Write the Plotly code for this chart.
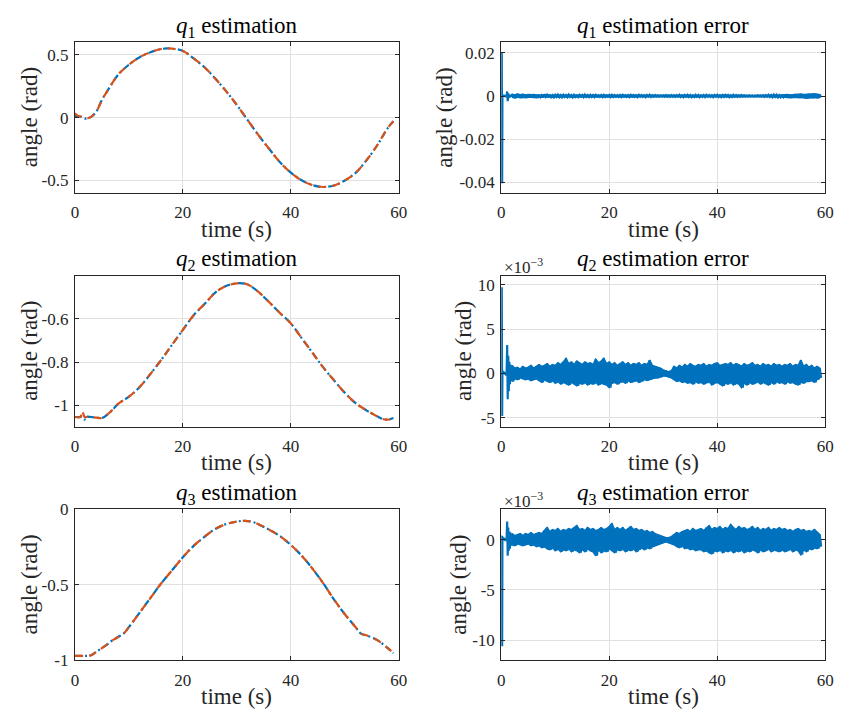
import numpy as np
import plotly.graph_objects as go

# ---------------- data ----------------
# estimation curves (time s, angle rad)
t_q1 = [0, 0.5, 1, 2, 3, 4, 5, 6, 8, 10, 12, 14, 16, 17, 18, 20, 22, 24, 26, 28, 30,
        32, 34, 36, 38, 40, 42, 44, 46, 48, 50, 52, 54, 56, 58, 59]
q1_ref = [0.012, 0.012, 0.008, -0.008, 0.005, 0.05, 0.14, 0.21, 0.34, 0.42, 0.48, 0.52,
          0.545, 0.55, 0.548, 0.53, 0.47, 0.40, 0.31, 0.21, 0.10, -0.02, -0.14, -0.25,
          -0.356, -0.438, -0.499, -0.537, -0.552, -0.54, -0.50, -0.44, -0.34, -0.22, -0.08, -0.03]
q1_est = [0.035, 0.015, 0.008, -0.008, 0.005, 0.05, 0.14, 0.21, 0.34, 0.42, 0.48, 0.52,
          0.545, 0.55, 0.548, 0.53, 0.47, 0.40, 0.31, 0.21, 0.10, -0.02, -0.14, -0.25,
          -0.356, -0.438, -0.499, -0.537, -0.552, -0.54, -0.50, -0.44, -0.34, -0.22, -0.08, -0.03]

t_q2 = [0, 1, 1.3, 1.8, 2, 3, 4, 5, 6, 7, 8, 10, 12, 14, 16, 18, 20, 22, 24, 26, 28, 30,
        31, 32, 34, 36, 38, 40, 42, 44, 46, 48, 50, 52, 54, 56, 57, 58, 59]
q2_ref = [-1.055, -1.055, -1.055, -1.067, -1.055, -1.055, -1.058, -1.06, -1.044, -1.021,
          -0.994, -0.961, -0.916, -0.855, -0.79, -0.72, -0.651, -0.583, -0.531, -0.478,
          -0.447, -0.435, -0.435, -0.44, -0.475, -0.523, -0.573, -0.621, -0.689, -0.757,
          -0.825, -0.885, -0.943, -0.991, -1.024, -1.052, -1.064, -1.067, -1.06]
q2_est = [-1.055, -1.055, -1.026, -1.055, -1.055, -1.055, -1.058, -1.06, -1.044, -1.021,
          -0.994, -0.961, -0.916, -0.855, -0.79, -0.72, -0.651, -0.583, -0.531, -0.478,
          -0.447, -0.435, -0.435, -0.44, -0.475, -0.523, -0.573, -0.621, -0.689, -0.757,
          -0.825, -0.885, -0.943, -0.991, -1.024, -1.052, -1.064, -1.067, -1.06]

t_q3 = [0, 2, 3, 4, 6, 7, 8, 9, 10, 12, 14, 16, 18, 20, 22, 24, 26, 28, 30, 31.5, 33, 35,
        38, 40, 42, 44, 46, 48, 50, 52, 53, 54, 56, 58, 59]
q3_ref = [-0.97, -0.97, -0.966, -0.942, -0.894, -0.866, -0.845, -0.823, -0.78, -0.683,
          -0.586, -0.489, -0.403, -0.317, -0.241, -0.181, -0.129, -0.097, -0.08, -0.075,
          -0.084, -0.116, -0.177, -0.235, -0.306, -0.392, -0.489, -0.597, -0.694, -0.78,
          -0.823, -0.834, -0.866, -0.92, -0.953]
q3_est = list(q3_ref)

# error signals: initial transient (fine time) + noise band envelope (0.5 s steps from 2 s)
t_trans = [0, 0.1, 0.17, 0.22, 0.3, 0.5, 0.8, 1.0, 1.1, 1.2, 1.3, 1.4, 1.5, 1.6, 1.7,
           1.8, 1.9, 2.0]
e1_trans = [0, 0.02, -0.0405, 0.0003, 0, 0.0002, -0.0002, 0.0003, 0.0021, -0.0024, 0.0012,
            -0.0010, 0.0006, -0.0006, 0.0004, -0.0004, 0.0003, 0]
e2_trans = [0, 9.7, -4.8, 0.3, 0.0, 0.1, -0.1, 0.2, 3.2, -2.9, 2.0, -2.0, 1.3, -1.2, 1.0,
            -0.9, 0.8, 0.0]
e3_trans = [0, 0.4, -10.6, 0.3, 0.0, 0.1, -0.1, 0.2, 1.8, -1.6, 1.2, -1.1, 0.8, -0.9, 0.7,
            -0.6, 0.5, 0.0]

t_band_start, t_band_step = 2.0, 0.5

e1_up = [0.0008, 0.0005, 0.0009, 0.0006, 0.0008, 0.0005, 0.0007, 0.0006, 0.0008, 0.0005,
         0.0006, 0.0004, 0.0007, 0.0005, 0.0006, 0.0004, 0.0005, 0.0006, 0.0004, 0.0005,
         0.0004, 0.0006, 0.0004, 0.0005, 0.0003, 0.0005, 0.0004, 0.0006, 0.0004, 0.0005,
         0.0004, 0.0005, 0.0003, 0.0004, 0.0005, 0.0003, 0.0004, 0.0005, 0.0004, 0.0003,
         0.0004, 0.0005, 0.0003, 0.0004, 0.0005, 0.0004, 0.0003, 0.0005, 0.0004, 0.0003,
         0.0004, 0.0005, 0.0003, 0.0004, 0.0003, 0.0002, 0.0003, 0.0004, 0.0003, 0.0004,
         0.0003, 0.0004, 0.0005, 0.0003, 0.0004, 0.0005, 0.0004, 0.0003, 0.0005, 0.0004,
         0.0003, 0.0004, 0.0005, 0.0004, 0.0003, 0.0004, 0.0005, 0.0003, 0.0004, 0.0005,
         0.0004, 0.0003, 0.0005, 0.0004, 0.0003, 0.0004, 0.0003, 0.0002, 0.0003, 0.0002,
         0.0002, 0.0003, 0.0002, 0.0003, 0.0004, 0.0005, 0.0004, 0.0006, 0.0005, 0.0004,
         0.0006, 0.0005, 0.0007, 0.0005, 0.0006, 0.0008, 0.0006, 0.0009, 0.0007, 0.0008,
         0.0009, 0.0007, 0.0010, 0.0008, 0.0006]
e1_lo = [-0.0006, -0.0009, -0.0005, -0.0008, -0.0006, -0.0008, -0.0005, -0.0007, -0.0006, -0.0008,
         -0.0005, -0.0006, -0.0004, -0.0006, -0.0005, -0.0006, -0.0004, -0.0005, -0.0006, -0.0004,
         -0.0005, -0.0004, -0.0006, -0.0004, -0.0005, -0.0003, -0.0005, -0.0004, -0.0005, -0.0004,
         -0.0005, -0.0003, -0.0004, -0.0005, -0.0004, -0.0003, -0.0005, -0.0004, -0.0003, -0.0004,
         -0.0005, -0.0003, -0.0004, -0.0005, -0.0003, -0.0004, -0.0005, -0.0003, -0.0004, -0.0005,
         -0.0003, -0.0004, -0.0003, -0.0002, -0.0003, -0.0002, -0.0003, -0.0003, -0.0004, -0.0003,
         -0.0004, -0.0003, -0.0004, -0.0005, -0.0003, -0.0004, -0.0005, -0.0004, -0.0003, -0.0005,
         -0.0004, -0.0005, -0.0003, -0.0004, -0.0005, -0.0003, -0.0004, -0.0005, -0.0004, -0.0003,
         -0.0005, -0.0004, -0.0003, -0.0004, -0.0003, -0.0002, -0.0003, -0.0002, -0.0002, -0.0003,
         -0.0002, -0.0002, -0.0003, -0.0004, -0.0003, -0.0004, -0.0005, -0.0004, -0.0006, -0.0005,
         -0.0005, -0.0007, -0.0006, -0.0008, -0.0006, -0.0007, -0.0009, -0.0007, -0.0008, -0.0010,
         -0.0008, -0.0009, -0.0007, -0.0009, -0.0006]

e2_up = [0.9, 0.6, 0.7, 0.5, 0.8, 0.6, 0.7, 0.9, 0.6, 0.8,
         1.0, 0.8, 0.9, 1.1, 0.8, 1.0, 0.9, 1.2, 1.0, 1.3,
         1.7, 1.1, 1.3, 1.0, 1.4, 1.2, 1.0, 1.3, 1.1, 1.2,
         1.0, 1.6, 1.2, 1.4, 1.7, 1.1, 1.3, 1.0, 1.2, 0.9,
         1.1, 1.3, 1.0, 1.2, 0.9, 1.1, 1.0, 1.2, 0.9, 1.1,
         1.0, 1.5, 0.9, 0.8, 0.7, 0.6, 0.4, 0.3, 0.2, 0.3,
         0.8, 0.6, 0.9, 0.7, 1.0, 0.8, 1.1, 0.9, 0.8, 1.0,
         0.9, 1.1, 0.8, 1.0, 0.9, 1.1, 1.2, 0.9, 1.0, 1.1,
         1.0, 1.2, 0.9, 1.1, 1.0, 0.8, 1.1, 0.9, 1.0, 1.2,
         0.9, 1.0, 0.8, 1.1, 0.9, 1.0, 0.8, 1.1, 0.9, 1.0,
         0.8, 1.0, 0.9, 1.1, 0.8, 1.0, 0.9, 1.5, 0.8, 1.0,
         0.7, 0.9, 0.6, 0.8, 0.6]
e2_lo = [-0.9, -0.6, -0.7, -0.5, -0.6, -0.7, -0.6, -0.8, -0.7, -0.6,
         -0.8, -1.0, -0.7, -0.9, -1.0, -0.8, -1.1, -0.9, -1.2, -1.0,
         -1.1, -1.3, -1.0, -1.2, -1.4, -1.1, -1.2, -1.0, -1.3, -1.1,
         -1.2, -1.0, -1.3, -1.1, -1.2, -1.3, -1.6, -1.1, -1.0, -1.2,
         -1.0, -0.9, -1.1, -0.8, -1.0, -0.9, -0.8, -1.0, -0.9, -0.7,
         -0.8, -0.7, -0.6, -0.5, -0.5, -0.4, -0.3, -0.3, -0.4, -0.5,
         -0.7, -0.9, -0.8, -1.0, -0.9, -1.1, -1.0, -1.2, -0.9, -1.1,
         -1.0, -1.2, -1.1, -0.9, -1.3, -1.1, -1.0, -1.2, -1.4, -1.1,
         -1.2, -1.0, -1.3, -1.1, -1.2, -1.6, -1.1, -1.3, -1.0, -1.2,
         -1.1, -0.9, -1.2, -1.0, -1.1, -1.3, -1.0, -1.2, -0.9, -1.1,
         -1.0, -1.2, -0.9, -1.1, -1.0, -1.2, -1.3, -1.0, -1.1, -0.9,
         -0.9, -0.8, -1.0, -0.7, -0.5]

e3_up = [0.6, 0.4, 0.5, 0.6, 0.4, 0.6, 0.5, 0.7, 0.5, 0.6,
         0.7, 0.6, 0.9, 1.2, 0.8, 1.0, 0.9, 1.1, 0.8, 1.0,
         0.9, 1.1, 1.0, 1.2, 1.4, 1.0, 1.1, 0.9, 1.2, 1.0,
         1.1, 0.9, 1.0, 1.2, 1.0, 1.1, 1.3, 1.6, 1.0, 1.2,
         1.0, 1.2, 0.9, 1.1, 1.3, 1.0, 1.1, 0.9, 1.0, 0.8,
         0.9, 0.7, 0.8, 0.6, 0.5, 0.4, 0.3, 0.2, 0.2, 0.3,
         0.5, 0.7, 0.6, 0.8, 0.9, 1.0, 0.8, 1.1, 0.9, 1.0,
         1.1, 0.9, 1.2, 1.4, 1.0, 1.2, 1.1, 1.3, 1.0, 1.2,
         1.1, 1.5, 1.2, 1.0, 1.3, 1.1, 1.2, 1.0, 1.1, 1.3,
         1.0, 1.2, 0.9, 1.1, 1.0, 1.2, 0.9, 1.1, 1.0, 1.2,
         1.0, 1.1, 0.9, 1.0, 0.8, 1.0, 1.1, 0.9, 1.0, 0.8,
         0.9, 0.8, 1.0, 0.7, 0.5]
e3_lo = [-0.5, -0.6, -0.4, -0.5, -0.6, -0.5, -0.4, -0.6, -0.5, -0.7,
         -0.6, -0.8, -0.7, -0.9, -1.0, -0.8, -1.1, -0.9, -1.2, -1.0,
         -1.1, -0.9, -1.2, -1.0, -1.1, -1.3, -1.0, -1.2, -0.9, -1.1,
         -1.2, -1.6, -1.0, -1.3, -1.1, -1.2, -0.9, -1.1, -1.3, -1.0,
         -1.1, -0.9, -1.2, -1.0, -1.1, -0.9, -1.2, -1.0, -0.8, -1.0,
         -0.8, -0.9, -0.7, -0.6, -0.5, -0.4, -0.3, -0.2, -0.3, -0.4,
         -0.5, -0.7, -0.8, -0.6, -0.9, -0.8, -1.0, -0.9, -1.1, -1.0,
         -1.0, -1.2, -1.1, -1.3, -1.4, -1.1, -1.2, -1.0, -1.3, -1.1,
         -1.2, -1.0, -1.3, -1.1, -1.2, -1.0, -1.3, -1.1, -1.2, -1.0,
         -1.1, -1.3, -1.0, -1.2, -1.1, -0.9, -1.2, -1.0, -1.1, -1.2,
         -1.0, -1.2, -1.1, -0.9, -1.2, -1.0, -1.1, -1.5, -1.0, -1.2,
         -0.9, -1.0, -0.8, -0.9, -0.7]

x_ticks = [0, 20, 40, 60]
y_ticks = {
    "q1": ([-0.5, 0, 0.5], ["-0.5", "0", "0.5"]),
    "e1": ([-0.04, -0.02, 0, 0.02], ["-0.04", "-0.02", "0", "0.02"]),
    "q2": ([-1, -0.8, -0.6], ["-1", "-0.8", "-0.6"]),
    "e2": ([-5, 0, 5, 10], ["-5", "0", "5", "10"]),
    "q3": ([-1, -0.5, 0], ["-1", "-0.5", "0"]),
    "e3": ([-10, -5, 0], ["-10", "-5", "0"]),
}
y_ranges = {"q1": [-0.6, 0.6], "e1": [-0.045, 0.025], "q2": [-1.1, -0.4],
            "e2": [-6, 11], "q3": [-1, 0], "e3": [-12, 3]}

# ---------------- figure ----------------
W, H = 845, 722
BLUE, ORANGE = "#0072BD", "#D95319"
TXT = "#262626"
FONT = "Liberation Serif, Times New Roman, serif"

fig = go.Figure()

col_px = [(72, 401), (505, 834)]
row_px = [(34, 189), (274, 429), (514, 669)]

keys = [["q1", "e1"], ["q2", "e2"], ["q3", "e3"]]
ax_index = {}
n = 0
for r in range(3):
    for c in range(2):
        n += 1
        ax_index[keys[r][c]] = n


def band_times(m):
    return [t_band_start + i * t_band_step for i in range(m)]


def band_zigzag(up, lo):
    xs, ys = [], []
    for t0, u, l in zip(band_times(len(up)), up, lo):
        xs += [t0, t0 + t_band_step / 2]
        ys += [u, l]
    return xs, ys


def ax_names(k):
    i = ax_index[k]
    return ("x" if i == 1 else f"x{i}"), ("y" if i == 1 else f"y{i}")


# estimation traces
for k, t, ref, est in [("q1", t_q1, q1_ref, q1_est), ("q2", t_q2, q2_ref, q2_est),
                       ("q3", t_q3, q3_ref, q3_est)]:
    xa, ya = ax_names(k)
    fig.add_trace(go.Scatter(x=t, y=ref, mode="lines", xaxis=xa, yaxis=ya,
                             line=dict(color=BLUE, width=2.2, dash="7px,3px,2px,3px",
                                       shape="spline", smoothing=1.0),
                             showlegend=False))
    fig.add_trace(go.Scatter(x=t, y=est, mode="lines", xaxis=xa, yaxis=ya,
                             line=dict(color=ORANGE, width=2.2, dash="8px,6px",
                                       shape="spline", smoothing=1.0),
                             showlegend=False))

# error traces: filled noise band + zigzag + transient
for k, tr, up, lo in [("e1", e1_trans, e1_up, e1_lo), ("e2", e2_trans, e2_up, e2_lo),
                      ("e3", e3_trans, e3_up, e3_lo)]:
    xa, ya = ax_names(k)
    bt = band_times(len(up))
    fig.add_trace(go.Scatter(x=bt + bt[::-1], y=up + lo[::-1], mode="lines", fill="toself",
                             fillcolor=BLUE, xaxis=xa, yaxis=ya,
                             line=dict(color=BLUE, width=1.5), showlegend=False))
    bx, by = band_zigzag(up, lo)
    fig.add_trace(go.Scatter(x=t_trans + bx, y=tr + by, mode="lines", xaxis=xa, yaxis=ya,
                             line=dict(color=BLUE, width=2.2), showlegend=False))

layout = dict(width=W, height=H, margin=dict(l=0, r=0, t=0, b=0),
              paper_bgcolor="white", plot_bgcolor="white",
              font=dict(family=FONT, color=TXT, size=17))

annotations = []
for r in range(3):
    for c in range(2):
        k = keys[r][c]
        i = ax_index[k]
        xl, xr = col_px[c]
        yt, yb = row_px[r]
        xs = "" if i == 1 else str(i)
        common = dict(showline=True, linecolor=TXT, linewidth=1, mirror="ticks",
                      ticks="inside", ticklen=4, tickcolor=TXT, showgrid=True,
                      gridcolor="#e0e0e0", gridwidth=1, zeroline=False,
                      tickfont=dict(family=FONT, size=17, color=TXT))
        layout[f"xaxis{xs}"] = dict(domain=[xl / W, xr / W], anchor=f"y{xs}", range=[0, 60],
                                    tickvals=x_ticks, ticktext=[str(v) for v in x_ticks],
                                    ticklabelstandoff=4, **common)
        tv, tt = y_ticks[k]
        layout[f"yaxis{xs}"] = dict(domain=[1 - yb / H, 1 - yt / H], anchor=f"x{xs}",
                                    range=y_ranges[k], tickvals=tv, ticktext=tt,
                                    ticklabelstandoff=2, **common)
        qn = r + 1
        title = f"<i>q</i><sub>{qn}</sub> estimation" + (" error" if c == 1 else "")
        annotations.append(dict(text=title, x=(xl + xr) / 2 / W, y=1 - (yt - 16) / H,
                                xref="paper", yref="paper", showarrow=False,
                                xanchor="center", yanchor="middle",
                                font=dict(family=FONT, size=23, color="black")))
        annotations.append(dict(text="time (s)", x=(xl + xr) / 2 / W, y=1 - (yb + 37) / H,
                                xref="paper", yref="paper", showarrow=False,
                                xanchor="center", yanchor="middle",
                                font=dict(family=FONT, size=23, color=TXT)))
        ylx = {"q1": 26, "q2": 26, "q3": 26, "e1": 447, "e2": 466, "e3": 462}[k]
        annotations.append(dict(text="angle (rad)", x=ylx / W, y=1 - (yt + yb) / 2 / H,
                                xref="paper", yref="paper", showarrow=False, textangle=-90,
                                xanchor="center", yanchor="middle",
                                font=dict(family=FONT, size=23, color=TXT)))
        if k in ("e2", "e3"):
            annotations.append(dict(text="×10<sup>−3</sup>", x=(xl + 1) / W, y=1 - (yt - 10) / H,
                                    xref="paper", yref="paper", showarrow=False,
                                    xanchor="left", yanchor="middle",
                                    font=dict(family=FONT, size=17, color=TXT)))

layout["annotations"] = annotations
fig.update_layout(**layout)
fig.write_html("out.html")
